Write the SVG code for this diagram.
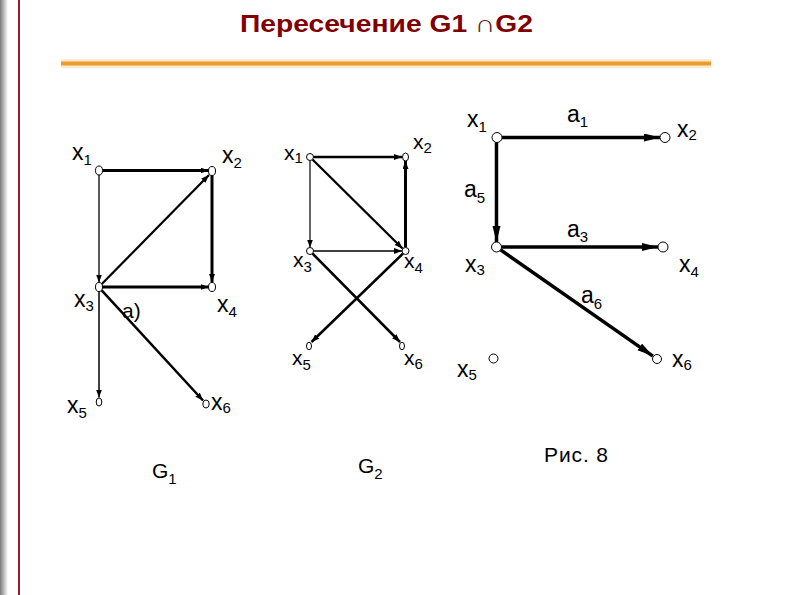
<svg xmlns="http://www.w3.org/2000/svg" width="794" height="595" viewBox="0 0 794 595">
<defs>
<linearGradient id="shadow" x1="0" y1="0" x2="1" y2="0">
<stop offset="0" stop-color="#7a7a7a"/>
<stop offset="1" stop-color="#ffffff"/>
</linearGradient>
<marker id="ah" markerUnits="userSpaceOnUse" markerWidth="10" markerHeight="8" refX="8" refY="3" orient="auto">
<path d="M0,0 L8,3 L0,6 z" fill="#000"/>
</marker>
<marker id="ahb" markerUnits="userSpaceOnUse" markerWidth="18" markerHeight="10" refX="16" refY="4" orient="auto">
<path d="M0,0 L16,4 L0,8 z" fill="#000"/>
</marker>
</defs>
<style>
.t{font-family:"Liberation Sans",Arial,sans-serif;fill:#000}
.lab{font-size:23px}
.lab2{font-size:21px}
.sub{font-size:15px}
.n{fill:#fff;stroke:#000;stroke-width:1}
.e{fill:none;stroke:#000;marker-end:url(#ah)}
.eb{fill:none;stroke:#000;stroke-width:3.5;marker-end:url(#ahb)}
</style>
<rect x="0" y="0" width="794" height="595" fill="#fff"/>
<rect x="0" y="0" width="8" height="595" fill="url(#shadow)"/>
<line x1="19" y1="0" x2="19" y2="595" stroke="#9b1b30" stroke-width="2"/>
<text x="240" y="32" textLength="293" lengthAdjust="spacingAndGlyphs" font-family="Liberation Sans,Arial,sans-serif" font-size="24" fill="#800000"><tspan font-weight="bold">Пересечение G1 </tspan><tspan fill="#5a2020">∩</tspan><tspan font-weight="bold">G2</tspan></text>
<line x1="61" y1="63.5" x2="711" y2="63.5" stroke="#fbe9cf" stroke-width="9"/>
<line x1="61" y1="63.5" x2="711" y2="63.5" stroke="#ee9a2e" stroke-width="4"/>

<g id="connectors">
<!-- G1 -->
<line class="e" x1="102.5" y1="170.5" x2="208.5" y2="170.5" stroke-width="3"/>
<line class="e" x1="99" y1="174.5" x2="99" y2="282.5" stroke-width="1.3"/>
<line class="e" x1="101.8" y1="284" x2="209" y2="175" stroke-width="2.2"/>
<line class="e" x1="212" y1="175.5" x2="212" y2="282" stroke-width="3"/>
<line class="e" x1="102.5" y1="287" x2="208.5" y2="287" stroke-width="3"/>
<line class="e" x1="99" y1="291.5" x2="99" y2="397.5" stroke-width="1.5"/>
<line class="e" x1="101.7" y1="290.3" x2="203" y2="400.5" stroke-width="2.5"/>
<!-- G2 -->
<line class="e" x1="313.5" y1="157" x2="402" y2="157" stroke-width="2.5"/>
<line class="e" x1="310" y1="160.5" x2="310" y2="247.5" stroke-width="1.2"/>
<line class="e" x1="312.5" y1="159.5" x2="402.5" y2="248.5" stroke-width="2.3"/>
<line class="e" x1="405.5" y1="247.5" x2="405.5" y2="161" stroke-width="3"/>
<line class="e" x1="313.5" y1="251" x2="402" y2="251" stroke-width="1.5"/>
<line class="e" x1="312.5" y1="253.5" x2="400" y2="342" stroke-width="2.5"/>
<line class="e" x1="403" y1="253.5" x2="311.5" y2="342" stroke-width="2.5"/>
<!-- G3 -->
<line class="eb" x1="502" y1="137.5" x2="660" y2="137.5"/>
<line class="eb" x1="496.5" y1="142.5" x2="496.5" y2="242"/>
<line class="eb" x1="501.5" y1="247" x2="658" y2="247"/>
<line class="eb" x1="500.6" y1="249.9" x2="652.9" y2="356.1"/>
</g>

<!-- G1 nodes -->
<g id="g1-x1"><ellipse class="n" cx="99" cy="170.5" rx="3.5" ry="4.5"/><text class="t lab" x="72" y="160">x<tspan class="sub" dy="5">1</tspan></text></g>
<g id="g1-x2"><ellipse class="n" cx="212" cy="171" rx="3.5" ry="4.5"/><text class="t lab" x="222" y="163">x<tspan class="sub" dy="5">2</tspan></text></g>
<g id="g1-x3"><ellipse class="n" cx="99" cy="287" rx="3.5" ry="4.5"/><text class="t lab" x="74" y="307">x<tspan class="sub" dy="4">3</tspan></text></g>
<g id="g1-x4"><ellipse class="n" cx="212" cy="287" rx="3.5" ry="4.5"/><text class="t lab" x="217" y="312">x<tspan class="sub" dy="5">4</tspan></text></g>
<g id="g1-x5"><ellipse class="n" cx="99" cy="402" rx="2.8" ry="4"/><text class="t lab" x="67" y="413">x<tspan class="sub" dy="5">5</tspan></text></g>
<g id="g1-x6"><ellipse class="n" cx="206" cy="404" rx="3.2" ry="4"/><text class="t lab" x="211" y="410">x<tspan class="sub" dy="3">6</tspan></text></g>
<g id="g1-label-a"><text class="t lab2" x="122" y="318">a)</text></g>
<g id="g1-name"><text class="t" font-size="21" x="152" y="478">G<tspan font-size="15" dy="6">1</tspan></text></g>

<!-- G2 nodes -->
<g id="g2-x1"><ellipse class="n" cx="310" cy="157" rx="3.5" ry="3.5"/><text class="t lab2" x="284" y="160">x<tspan class="sub" dy="3">1</tspan></text></g>
<g id="g2-x2"><ellipse class="n" cx="405.5" cy="157" rx="3" ry="4"/><text class="t lab2" x="413" y="149">x<tspan class="sub" dy="4">2</tspan></text></g>
<g id="g2-x3"><ellipse class="n" cx="310" cy="251" rx="3.5" ry="3.5"/><text class="t lab2" x="293" y="267">x<tspan class="sub" dy="5">3</tspan></text></g>
<g id="g2-x4"><ellipse class="n" cx="405.5" cy="251" rx="3.5" ry="3.5"/><text class="t lab2" x="404" y="268">x<tspan class="sub" dy="5">4</tspan></text></g>
<g id="g2-x5"><ellipse class="n" cx="309" cy="346" rx="2.5" ry="3.8"/><text class="t lab2" x="292" y="365">x<tspan class="sub" dy="5">5</tspan></text></g>
<g id="g2-x6"><ellipse class="n" cx="402" cy="346" rx="2.5" ry="3.8"/><text class="t lab2" x="404" y="365">x<tspan class="sub" dy="4">6</tspan></text></g>
<g id="g2-name"><text class="t" font-size="21" x="358" y="473">G<tspan font-size="15" dy="6">2</tspan></text></g>

<!-- G3 nodes -->
<g id="g3-x1"><circle class="n" cx="497" cy="137.5" r="5"/><text class="t lab" x="467" y="127">x<tspan class="sub" dy="5">1</tspan></text></g>
<g id="g3-x2"><circle class="n" cx="665" cy="137.5" r="5"/><text class="t lab" x="677" y="137">x<tspan class="sub" dy="3">2</tspan></text></g>
<g id="g3-x3"><circle class="n" cx="496.5" cy="247" r="5"/><text class="t lab" x="465" y="272">x<tspan class="sub" dy="3">3</tspan></text></g>
<g id="g3-x4"><circle class="n" cx="663" cy="247" r="5"/><text class="t lab" x="679" y="272">x<tspan class="sub" dy="5">4</tspan></text></g>
<g id="g3-x5"><circle class="n" cx="493.5" cy="358.5" r="4.5"/><text class="t lab" x="457" y="377">x<tspan class="sub" dy="3">5</tspan></text></g>
<g id="g3-x6"><circle class="n" cx="657" cy="359" r="4.5"/><text class="t lab" x="672" y="367">x<tspan class="sub" dy="3">6</tspan></text></g>
<g id="g3-labels">
<text class="t lab" x="567" y="122">a<tspan class="sub" dy="5">1</tspan></text>
<text class="t lab" x="464" y="197">a<tspan class="sub" dy="6">5</tspan></text>
<text class="t lab" x="567" y="237">a<tspan class="sub" dy="5">3</tspan></text>
<text class="t lab" x="581" y="303">a<tspan class="sub" dy="6">6</tspan></text>
</g>
<g id="caption"><text class="t" font-size="21" x="544" y="462" textLength="64">Рис. 8</text></g>
</svg>
